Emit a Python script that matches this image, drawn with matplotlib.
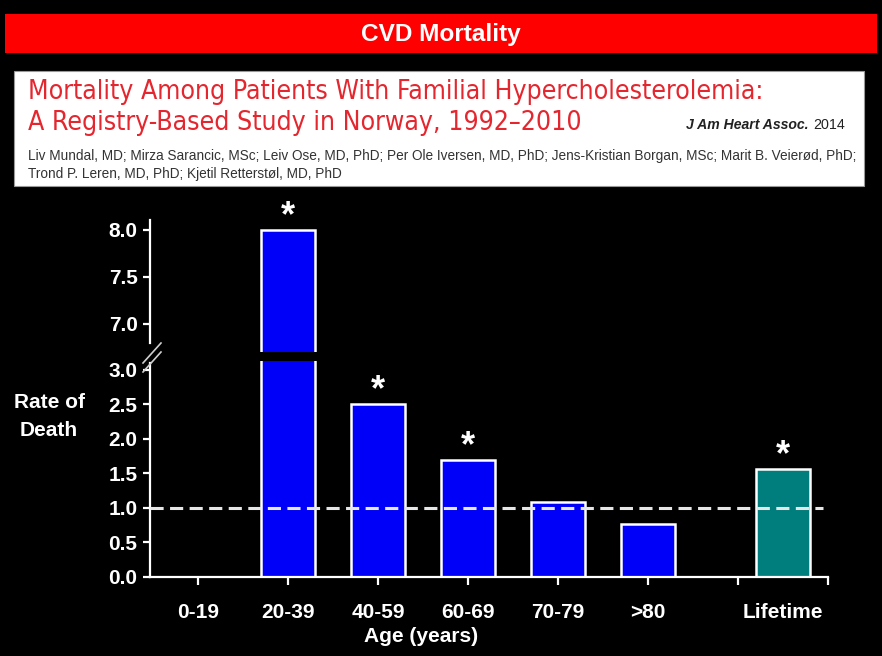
"""
CVD mortality by age group in familial hypercholesterolemia (Norway registry),
redrawn as a slide with a broken y axis.
"""

import matplotlib
matplotlib.use("Agg")
import matplotlib.pyplot as plt
import numpy as np
from matplotlib import font_manager as fm
from matplotlib.lines import Line2D
from matplotlib.patches import Rectangle

W, H = 882, 656

categories = ["0-19", "20-39", "40-59", "60-69", "70-79", ">80", "Lifetime"]
rates = [np.nan, 8.0, 2.5, 1.7, 1.08, 0.77, 1.57]
significant = [False, True, True, True, False, False, True]
lower_ticks = [0.0, 0.5, 1.0, 1.5, 2.0, 2.5, 3.0]
upper_ticks = [7.0, 7.5, 8.0]
reference_rate = 1.0

banner_text = "CVD Mortality"
title_lines = [
    "Mortality Among Patients With Familial Hypercholesterolemia:",
    "A Registry-Based Study in Norway, 1992\u20132010",
]
journal = "J Am Heart Assoc."
year = "2014"
authors = [
    "Liv Mundal, MD; Mirza Sarancic, MSc; Leiv Ose, MD, PhD; Per Ole Iversen, MD, PhD; "
    "Jens-Kristian Borgan, MSc; Marit B. Veierød, PhD;",
    "Trond P. Leren, MD, PhD; Kjetil Retterstøl, MD, PhD",
]

BLUE = "#0000f8"
TEAL = "#007d7d"
RED = "#ff0000"
TITLE_RED = "#e4262e"

plt.rcParams["font.family"] = ["Liberation Sans", "DejaVu Sans"]
plt.rcParams["font.weight"] = "bold"


def fx(px):
    return px / W


def fy(py):
    return 1 - py / H


def condensed_font():
    # the slide uses a condensed face for the article header; use one if present
    cands = []
    for f in fm.fontManager.ttflist:
        tag = (f.name + " " + f.fname).lower()
        narrow = ("narrow" in tag or "condensed" in tag
                  or f.stretch in ("condensed", "semi-condensed"))
        if narrow and f.style == "normal" and f.weight in (400, "normal", "regular"):
            if "extra" in tag or "ultra" in tag or "semi" in tag:
                continue
            rank = 0 if "liberation" in tag else 1 if "noto sans" in tag else 2
            cands.append((rank, f.fname))
    return sorted(cands)[0][1] if cands else None


def fit_text(fig, x, y, s, width, max_size=None, **kw):
    # scale the font so the rendered string spans `width` pixels
    t = fig.text(fx(x), fy(y), s, **kw)
    r = fig.canvas.get_renderer()
    w = t.get_window_extent(r).width
    size = t.get_fontsize() * width / w
    if max_size:
        size = min(size, max_size)
    t.set_fontsize(size)
    return t


fig = plt.figure(figsize=(W / 100, H / 100), dpi=100, facecolor="black")

# header
fig.patches.append(Rectangle((fx(5), fy(53)), fx(872), 39 / H, transform=fig.transFigure,
                             facecolor=RED, edgecolor="none"))
fit_text(fig, 441, 35, banner_text, 160, color="white", fontsize=17,
         ha="center", va="center")

fig.patches.append(Rectangle((fx(14), fy(186)), fx(850), 115 / H, transform=fig.transFigure,
                             facecolor="white", edgecolor="#999999", linewidth=0.8))

cfont = condensed_font()
head_kw = {}
if cfont:
    head_kw["fontproperties"] = fm.FontProperties(fname=cfont)
    cap = None
else:
    head_kw["fontweight"] = "normal"
    cap = 16.5
t1 = fit_text(fig, 28, 92, title_lines[0], 734, max_size=cap, color=TITLE_RED,
              fontsize=17, ha="left", va="center", **head_kw)
t2 = fig.text(fx(28), fy(123), title_lines[1], color=TITLE_RED,
              ha="left", va="center", **head_kw)
t2.set_fontsize(t1.get_fontsize())

fit_text(fig, 808, 125, journal, 123, color="#222222", fontweight="bold",
         style="italic", fontsize=9, ha="right", va="center")
fit_text(fig, 813, 125, year, 32, color="#222222", fontweight="normal",
         fontsize=9, ha="left", va="center")
a1 = fit_text(fig, 28, 156, authors[0], 829, color="#333333", fontweight="normal",
              fontsize=8, ha="left", va="center")
fig.text(fx(28), fy(174), authors[1], color="#333333", fontweight="normal",
         fontsize=a1.get_fontsize(), ha="left", va="center")

# chart: two stacked axes sharing x, gap = axis break
x = np.arange(len(categories), dtype=float)
x[-1] += 0.5
colors = [BLUE] * (len(categories) - 1) + [TEAL]
vals = np.array(rates)
has_bar = ~np.isnan(vals)

left, right = fx(150), fx(828)
ax_lo = fig.add_axes([left, fy(577), right - left, (577 - 361) / H])
ax_hi = fig.add_axes([left, fy(352), right - left, (352 - 220) / H])

for ax in (ax_lo, ax_hi):
    ax.set_facecolor("black")
    ax.bar(x[has_bar], vals[has_bar], width=0.6,
           color=[c for c, k in zip(colors, has_bar) if k],
           edgecolor="white", linewidth=1.8, zorder=2)
    ax.set_xlim(-0.533, 7.0)
    for side in ("top", "right"):
        ax.spines[side].set_visible(False)
    ax.spines["left"].set_color("white")
    ax.spines["left"].set_linewidth(1.6)
    ax.tick_params(axis="y", colors="white", length=5, width=1.6,
                   labelsize=15, pad=4)

ax_lo.set_ylim(0, 3.13)
ax_hi.set_ylim(6.70, 8.106)
ax_lo.set_yticks(lower_ticks, [f"{v:.1f}" for v in lower_ticks])
ax_hi.set_yticks(upper_ticks, [f"{v:.1f}" for v in upper_ticks])
ax_lo.spines["left"].set_bounds(0, 3.10)
ax_hi.spines["left"].set_bounds(6.80, 8.106)

ax_hi.spines["bottom"].set_visible(False)
ax_hi.set_xticks([])

ax_lo.spines["bottom"].set_color("white")
ax_lo.spines["bottom"].set_linewidth(1.6)
ax_lo.xaxis.remove_overlapping_locs = False
ax_lo.set_xticks(np.arange(8), [""] * 8)
ax_lo.set_xticks(x, categories, minor=True)
ax_lo.tick_params(axis="x", which="major", colors="white", length=6, width=1.6)
ax_lo.tick_params(axis="x", which="minor", length=0, pad=19,
                  labelcolor="white", labelsize=15)

ax_lo.axhline(reference_rate, xmin=0, xmax=(823 - 150) / 678, color="#e6e6e6",
              linewidth=2.2, linestyle=(0, (4.3, 2.1)), zorder=3)

# significance stars
for xi, v, sig in zip(x, rates, significant):
    if not sig:
        continue
    ax = ax_hi if v > 3.13 else ax_lo
    ax.annotate("*", (xi, v), xytext=(0, -3), textcoords="offset points",
                ha="center", va="bottom", color="white", fontsize=26,
                fontweight="bold", annotation_clip=False)

# break marks on the y axis
for y0 in (363, 372):
    fig.add_artist(Line2D([fx(143), fx(161)], [fy(y0), fy(y0 - 20)],
                          transform=fig.transFigure, color="#cfcfcf", linewidth=1.2))

fig.text(fx(49), fy(417), "Rate of\nDeath", color="white", fontsize=15,
         ha="center", va="center", linespacing=1.6)
fig.text(fx(421), fy(637), "Age (years)", color="white", fontsize=15,
         ha="center", va="center")

fig.savefig("out.png", dpi=100, facecolor="black")
